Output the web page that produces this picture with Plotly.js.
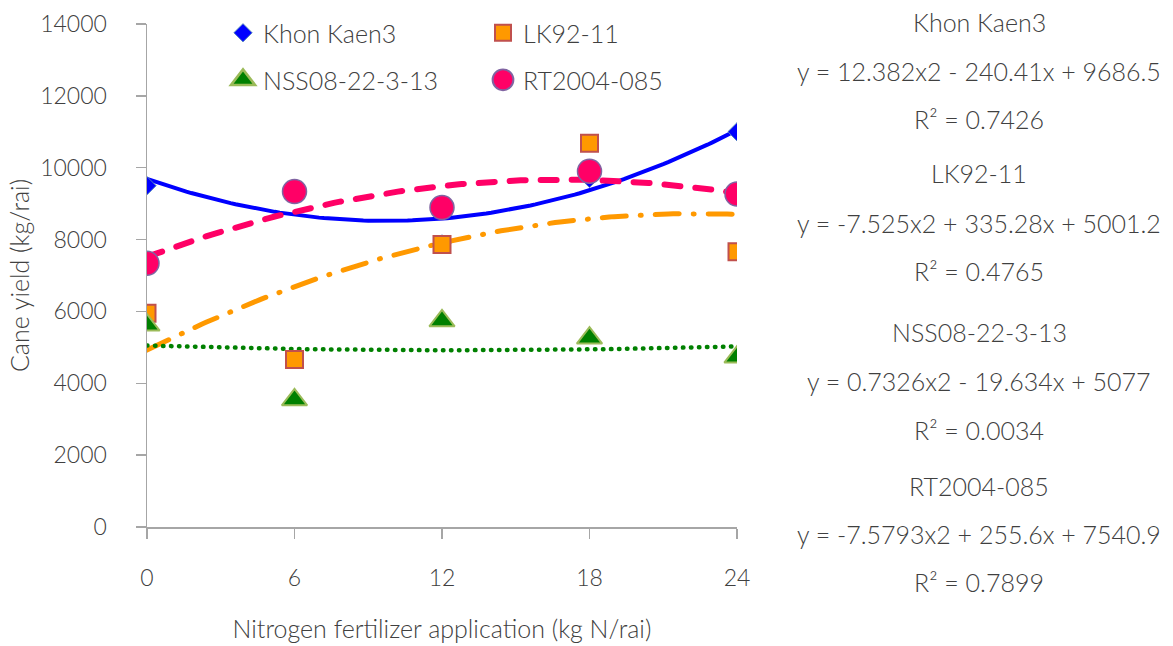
<!DOCTYPE html>
<html>
<head>
<meta charset="utf-8">
<script src="https://cdn.plot.ly/plotly-3.0.1.min.js"></script>
<style>
html,body{margin:0;padding:0;background:#fff;}
#chart{width:1173px;height:646px;}
.trend .js-line{stroke-linecap:round;}
</style>
</head>
<body>
<div id="chart"></div>
<script>
// ---- data ----
const nitrogen = [0, 6, 12, 18, 24];
const khonKaen3 = [9500, 9300, 7880, 9700, 11000];
const lk9211 = [5950, 4660, 7860, 10680, 7660];
const nss0822313 = [5620, 3540, 5740, 5260, 4730];
const rt2004085 = [7340, 9340, 8890, 9900, 9270];
const seriesNames = ['Khon Kaen3', 'LK92-11', 'NSS08-22-3-13', 'RT2004-085'];
const equationTexts = [
  'y = 12.382x2 - 240.41x + 9686.5',
  'y = -7.525x2 + 335.28x + 5001.2',
  'y = 0.7326x2 - 19.634x + 5077',
  'y = -7.5793x2 + 255.6x + 7540.9'
];
const r2Texts = ['R² = 0.7426', 'R² = 0.4765', 'R² = 0.0034', 'R² = 0.7899'];
const xTicks = [0, 6, 12, 18, 24];
const yTicks = [0, 2000, 4000, 6000, 8000, 10000, 12000, 14000];

// quadratic least-squares trendline computed from the data (as the spreadsheet did)
function quadFit(xs, ys) {
  let S = [0,0,0,0,0], T = [0,0,0];
  for (let i = 0; i < xs.length; i++) {
    let p = 1;
    for (let k = 0; k <= 4; k++) { S[k] += p; if (k <= 2) T[k] += p * ys[i]; p *= xs[i]; }
  }
  const A = [[S[0],S[1],S[2],T[0]],[S[1],S[2],S[3],T[1]],[S[2],S[3],S[4],T[2]]];
  for (let c = 0; c < 3; c++) {
    for (let r = c + 1; r < 3; r++) {
      const f = A[r][c] / A[c][c];
      for (let k = c; k < 4; k++) A[r][k] -= f * A[c][k];
    }
  }
  const sol = [0,0,0];
  for (let r = 2; r >= 0; r--) {
    let s = A[r][3];
    for (let k = r + 1; k < 3; k++) s -= A[r][k] * sol[k];
    sol[r] = s / A[r][r];
  }
  return sol;
}
function trend(ys) {
  const c = quadFit(nitrogen, ys);
  const xs = [], out = [];
  const n = 120;
  for (let i = 0; i <= n; i++) {
    const x = nitrogen[0] + (nitrogen[nitrogen.length-1] - nitrogen[0]) * i / n;
    xs.push(x); out.push(c[0] + c[1]*x + c[2]*x*x);
  }
  return {x: xs, y: out};
}

const FONT = 'Lato, "Open Sans", sans-serif';
const TXT = '#404040';
const FS = 25;

const tK = trend(khonKaen3), tL = trend(lk9211), tN = trend(nss0822313), tR = trend(rt2004085);

const traces = [
  {x: tK.x, y: tK.y, mode: 'lines', line: {color: '#0000FF', width: 4}, showlegend: false, hoverinfo: 'skip'},
  {x: tL.x, y: tL.y, mode: 'lines', line: {color: '#FF9900', width: 5, dash: '24px,14px,1px,14px'}, showlegend: false, hoverinfo: 'skip'},
  {x: tN.x, y: tN.y, mode: 'lines', line: {color: '#008000', width: 4.5, dash: '0.5px,7.5px'}, showlegend: false, hoverinfo: 'skip'},
  {x: tR.x, y: tR.y, mode: 'lines', line: {color: '#FF0066', width: 6, dash: '16px,15px'}, showlegend: false, hoverinfo: 'skip'},
  {x: nitrogen, y: khonKaen3, name: seriesNames[0], mode: 'markers', legend: 'legend',
   marker: {symbol: 'diamond', size: 14, color: '#0000FF', line: {color: '#4F81BD', width: 1}}},
  {x: nitrogen, y: lk9211, name: seriesNames[1], mode: 'markers', legend: 'legend',
   marker: {symbol: 'square', size: 17, color: '#FF9900', line: {color: '#C0504D', width: 2}}},
  {x: nitrogen, y: nss0822313, name: seriesNames[2], mode: 'markers', legend: 'legend2',
   marker: {symbol: 'triangle-up', size: 22, color: '#008000', line: {color: '#9BBB59', width: 2}}},
  {x: nitrogen, y: rt2004085, name: seriesNames[3], mode: 'markers', legend: 'legend2',
   marker: {symbol: 'circle', size: 24, color: '#FF0066', line: {color: '#8064A2', width: 1.5}}}
];

// right-hand equation block
const annX = 979;
const rowY = [[22, 71, 119], [173, 223, 271], [332, 381, 430], [486, 534, 582]];
const annotations = [];
for (let i = 0; i < 4; i++) {
  const lines = [seriesNames[i], equationTexts[i], r2Texts[i]];
  for (let j = 0; j < 3; j++) {
    annotations.push({
      xref: 'paper', yref: 'paper',
      x: (annX - 147) / (737 - 147), y: 1 - (rowY[i][j] - 24) / (527 - 24),
      xanchor: 'center', yanchor: 'middle', showarrow: false,
      text: lines[j], font: {family: FONT, size: FS, color: TXT, weight: 300}
    });
  }
}

const legendCommon = {
  orientation: 'h', xref: 'paper', yref: 'paper', xanchor: 'left', yanchor: 'middle',
  entrywidth: 215, entrywidthmode: 'pixels', bgcolor: 'rgba(0,0,0,0)',
  font: {family: FONT, size: FS, color: TXT, weight: 300}, itemsizing: 'trace', traceorder: 'normal'
};

const layout = {
  width: 1173, height: 646,
  margin: {l: 147, r: 436, t: 24, b: 119, pad: 0, autoexpand: false},
  paper_bgcolor: '#fff', plot_bgcolor: '#fff',
  font: {family: FONT, size: FS, color: TXT, weight: 300},
  showlegend: true,
  legend: Object.assign({}, legendCommon, {x: (223 - 147) / 590, y: 1 - (33 - 24) / 503}),
  legend2: Object.assign({}, legendCommon, {x: (223 - 147) / 590, y: 1 - (80 - 24) / 503}),
  xaxis: {
    range: [0, 24], tickvals: xTicks, ticktext: xTicks.map(String), automargin: false,
    showgrid: false, zeroline: false, showline: true, linecolor: '#A6A6A6', linewidth: 1.5,
    ticks: 'outside', ticklen: 10, tickcolor: '#A6A6A6', tickwidth: 1.5,
    ticklabelstandoff: 20, tickfont: {family: FONT, size: 23, color: TXT, weight: 300},
    title: {text: 'Nitrogen fertilizer application (kg N/rai)', font: {family: FONT, size: FS, color: TXT, weight: 300}, standoff: 30}
  },
  yaxis: {
    range: [0, 14000], tickvals: yTicks, ticktext: yTicks.map(String), automargin: false,
    showgrid: false, zeroline: false, showline: true, linecolor: '#A6A6A6', linewidth: 1.5,
    ticks: 'outside', ticklen: 10, tickcolor: '#A6A6A6', tickwidth: 1.5,
    ticklabelstandoff: 24, tickfont: {family: FONT, size: 23, color: TXT, weight: 300},
    title: {text: 'Cane yield (kg/rai)', font: {family: FONT, size: FS, color: TXT, weight: 300}, standoff: 3}
  },
  annotations: annotations
};

Plotly.newPlot('chart', traces, layout, {displayModeBar: false, staticPlot: true}).then(function(gd){
  const lines = gd.querySelectorAll('.scatterlayer .trace');
  for (let i = 0; i < 4; i++) lines[i].classList.add('trend');
  // enlarge the capped legend symbols to match the reference
  const scales = {legend2: 1.3};
  gd.querySelectorAll('.legend2 .legendpoints path.scatterpts').forEach(function(p){
    p.setAttribute('transform', (p.getAttribute('transform') || '') + ' scale(' + scales.legend2 + ')');
  });
});
</script>
</body>
</html>
